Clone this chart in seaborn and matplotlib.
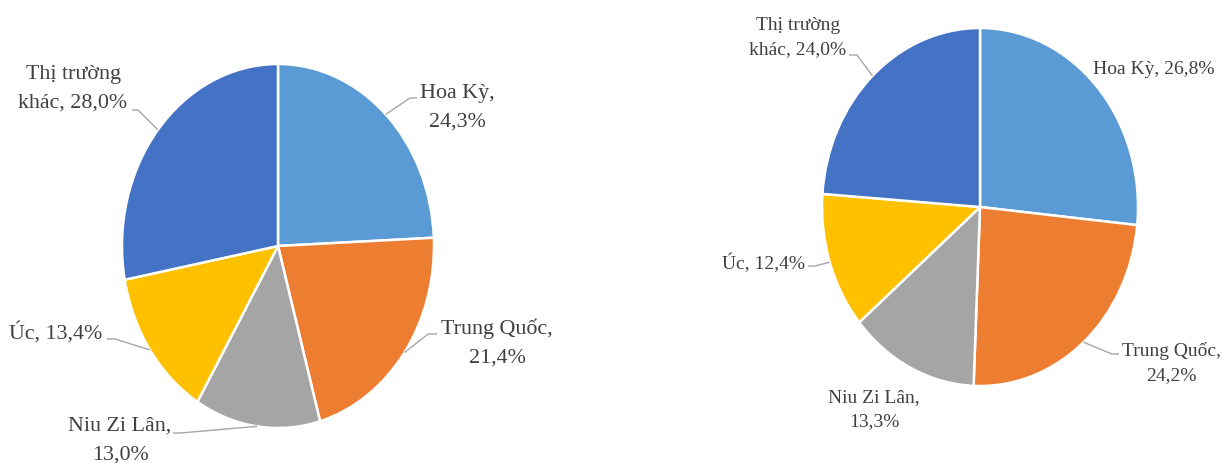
import numpy as np
import matplotlib
matplotlib.use("Agg")
import matplotlib.pyplot as plt
import seaborn as sns

# ---- data ----
categories = ["Hoa Kỳ", "Trung Quốc", "Niu Zi Lân", "Úc", "Thị trường khác"]
share_left = [24.3, 21.4, 13.0, 13.4, 28.0]
share_right = [26.8, 24.2, 13.3, 12.4, 24.0]
wrapped_names = ["Hoa Kỳ", "Trung Quốc", "Niu Zi Lân", "Úc", "Thị trường\nkhác"]
sep_left = [",\n", ",\n", ",\n", ", ", ", "]
sep_right = [", ", ",\n", ",\n", ", ", ", "]
colors = ["#5B9BD5", "#ED7D31", "#A5A5A5", "#FFC000", "#4472C4"]

# ---- style ----
sns.set_theme(style="white")
plt.rcParams["font.family"] = ["Liberation Serif", "DejaVu Serif"]
palette = sns.color_palette(colors)

W, H = 1222, 464
fig = plt.figure(figsize=(W / 100, H / 100), dpi=100)

TEXT_COLOR = "#404040"
LINE_COLOR = "#A6A6A6"

# layout (pixels) per pie
layouts = [
    dict(cx=278, cy=247, rx=156, ry=182, x0=0, x1=611, fs=15.8, ls=1.72,
         text=[(457, 108), (497, 343), (120, 441), (56, 333), (73, 89)],
         lead=[((410, 99), (417, 99)), ((428, 335), (437, 335)),
               ((180, 434), (173, 434)), ((115, 340), (107, 340)),
               ((138, 111), (132, 111))]),
    dict(cx=980, cy=208, rx=158, ry=179, x0=611, x1=1222, fs=14.0, ls=1.55,
         text=[(1154, 70), (1171, 363), (874, 410), (764, 263), (798, 38)],
         lead=[None, ((1112, 355), (1119, 355)), None,
               ((815, 267), (808, 267)), ((857, 56), (849, 56))]),
]

for shares, seps, L in zip([share_left, share_right], [sep_left, sep_right], layouts):
    ax = fig.add_axes([L["x0"] / W, 0, (L["x1"] - L["x0"]) / W, 1])
    wedges, _ = ax.pie(shares, colors=palette, startangle=90, counterclock=False,
                       wedgeprops=dict(edgecolor="white", linewidth=1.8))
    ax.set_aspect("auto")
    ax.set_xlim((L["x0"] - L["cx"]) / L["rx"], (L["x1"] - L["cx"]) / L["rx"])
    ax.set_ylim((L["cy"] - H) / L["ry"], L["cy"] / L["ry"])
    ax.axis("off")

    def to_data(p, L=L):
        return ((p[0] - L["cx"]) / L["rx"], (L["cy"] - p[1]) / L["ry"])

    for i, (w, name, val, sep) in enumerate(zip(wedges, wrapped_names, shares, seps)):
        label = f"{name}{sep}{val:.1f}%".replace(".", ",")
        tx, ty = to_data(L["text"][i])
        ax.text(tx, ty, label, ha="center", va="center", multialignment="center",
                fontsize=L["fs"], color=TEXT_COLOR, linespacing=L["ls"])
        if L["lead"][i] is not None:
            mid = np.deg2rad((w.theta1 + w.theta2) / 2)
            ex, ey = np.cos(mid), np.sin(mid)
            (bx, by), (cx_, cy_) = to_data(L["lead"][i][0]), to_data(L["lead"][i][1])
            ax.plot([ex, bx, cx_], [ey, by, cy_], color=LINE_COLOR, lw=1.0,
                    solid_capstyle="butt")

fig.savefig("out.png", dpi=100, facecolor="white")
